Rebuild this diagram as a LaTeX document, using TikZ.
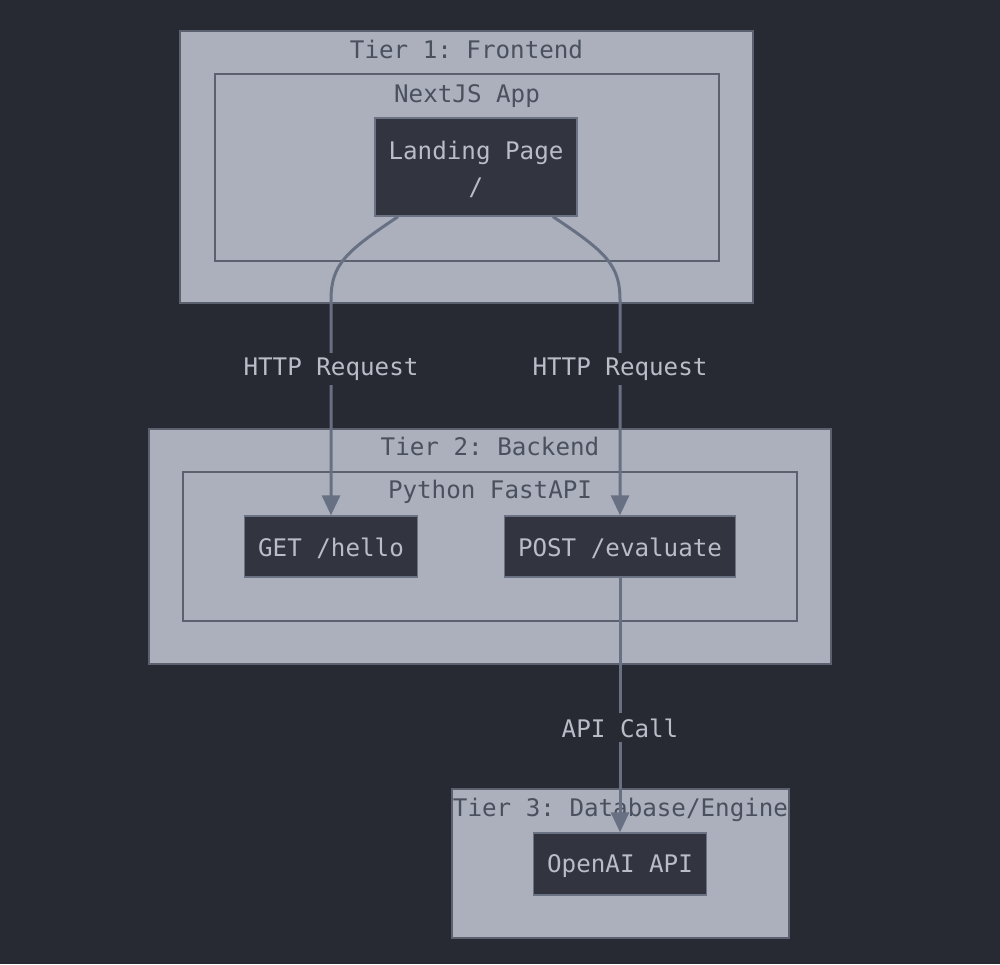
\documentclass[tikz,border=0pt]{standalone}
\usepackage{fontspec}
\setmonofont{DejaVu Sans Mono}
\usetikzlibrary{arrows.meta,positioning}
\definecolor{bgc}{HTML}{282A33}
\definecolor{clusterfill}{HTML}{ABB0BC}
\definecolor{clusterline}{HTML}{5C6170}
\definecolor{clustertext}{HTML}{4B505E}
\definecolor{boxfill}{HTML}{323540}
\definecolor{boxline}{HTML}{6B7283}
\definecolor{boxtext}{HTML}{B9BDC7}
\definecolor{edgec}{HTML}{687083}
\newcommand{\tallstrut}{\rule{0pt}{11.2pt}}

\begin{document}
\begin{tikzpicture}
  [x=0.5pt,y=-0.5pt,font=\ttfamily\fontsize{12.1}{18}\selectfont,
   cluster/.style={draw=clusterline,fill=clusterfill,line width=0.8pt},
   clabel/.style={text=clustertext,inner sep=0pt},
   box/.style={draw=boxline,fill=boxfill,text=boxtext,line width=0.7pt,inner sep=0pt,align=center},
   edge/.style={draw=edgec,line width=1.5pt,-{Triangle[length=10pt,width=9pt]}},
   elabel/.style={fill=bgc,text=boxtext,inner sep=2.5pt}]
  \path[use as bounding box,fill=bgc] (0,0) rectangle (1000,964);
  % tier 1
  \node[cluster,minimum width=286.5pt,minimum height=136pt] (tier1) at (466.5,167) {};
  \node[clabel] (tier1lab) at ([yshift=-9.5pt]tier1.north) {Tier 1: Frontend};
  \node[cluster,minimum width=252pt,minimum height=93.5pt] (nextjs) at (467,167.5) {};
  \node[clabel] (nextjslab) at ([yshift=-11.5pt]nextjs.north) {NextJS App};
  \node[box,minimum width=101pt,minimum height=49pt] (landing) at (476,167) {\tallstrut Landing Page\\/};
  % tier 2
  \node[cluster,minimum width=341pt,minimum height=117.5pt] (tier2) at (490,546.5) {};
  \node[clabel] (tier2lab) at ([yshift=-9pt]tier2.north) {Tier 2: Backend};
  \node[cluster,minimum width=307pt,minimum height=74.5pt] (fastapi) at (490,546.5) {};
  \node[clabel] (fastapilab) at ([yshift=-10.5pt]fastapi.north) {Python FastAPI};
  \node[box,minimum width=86.5pt,minimum height=30.5pt] (get) at (331,546.5) {\tallstrut GET /hello};
  \node[box,minimum width=115.5pt,minimum height=30.5pt] (post) at (620,546.5) {\tallstrut POST /evaluate};
  % tier 3
  \node[cluster,minimum width=168.5pt,minimum height=74.5pt] (tier3) at (620.5,863.5) {};
  \node[clabel] (tier3lab) at ([yshift=-11pt]tier3.north) {Tier 3: Database/Engine};
  \node[box,minimum width=86.5pt,minimum height=31pt] (openai) at (620,864) {\tallstrut OpenAI API};
  % edges
  \coordinate (bendl) at (331,300);
  \coordinate (bendr) at (620,300);
  \draw[edge] ([xshift=-39pt]landing.south) .. controls (345,252) and (331,265) .. (bendl)
    -- node[elabel,pos=0.32] (req1) {HTTP Request} (get.north);
  \draw[edge] ([xshift=38.5pt]landing.south) .. controls (606,252) and (620,265) .. (bendr)
    -- node[elabel,pos=0.32] (req2) {HTTP Request} (post.north);
  \draw[edge] (post.south) -- node[elabel,pos=0.59] (call) {API Call} (openai.north);
\end{tikzpicture}
\end{document}
